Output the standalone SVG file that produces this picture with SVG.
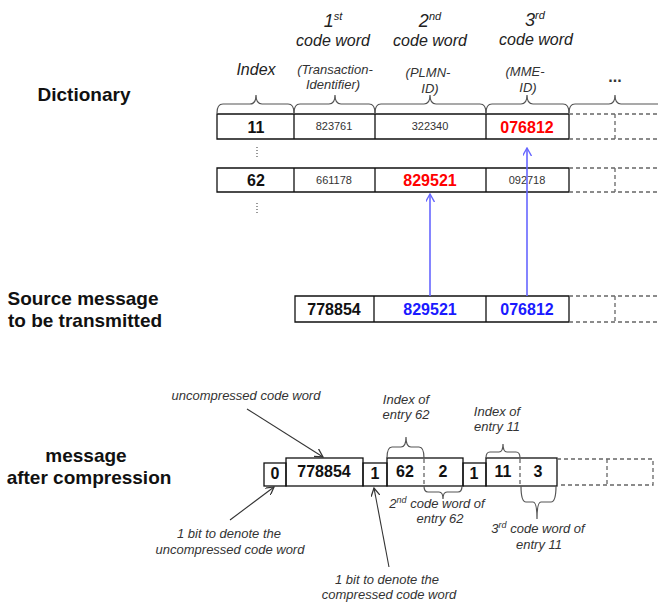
<svg xmlns="http://www.w3.org/2000/svg" width="658" height="606" viewBox="0 0 658 606">
<defs>
<style>
text{font-family:"Liberation Sans",Arial,sans-serif}
.lbl{font-weight:bold;font-size:19px;fill:#111}
.hd{font-style:italic;font-size:16px;fill:#222}
.sub{font-style:italic;font-size:13px;fill:#333}
.it{font-style:italic;font-size:13px;fill:#333}
.num{font-size:11px;fill:#333}
.bn{font-weight:bold;font-size:16px;fill:#111}
.red{font-weight:bold;font-size:16px;fill:#ff0000}
.blue{font-weight:bold;font-size:16px;fill:#1a1aff}
.box{fill:none;stroke:#111;stroke-width:1.3}
.dash{fill:none;stroke:#666;stroke-width:1.3;stroke-dasharray:4,3}
.brace{fill:none;stroke:#555;stroke-width:1.2}
.dots{stroke:#555;stroke-width:1.2;stroke-dasharray:1,2}
.barr{stroke:#6666ff;stroke-width:1.6;fill:none}
.karr{stroke:#333;stroke-width:1.1;fill:none}
</style>
<marker id="mb" viewBox="0 0 10 10" refX="9" refY="5" markerWidth="9" markerHeight="9" markerUnits="userSpaceOnUse" orient="auto"><path d="M0,0 L9,5 L0,10" fill="none" stroke="#6666ff" stroke-width="1.5"/></marker>
<marker id="mk" viewBox="0 0 10 10" refX="9" refY="5" markerWidth="9" markerHeight="9" markerUnits="userSpaceOnUse" orient="auto"><path d="M0,0 L9,5 L0,10" fill="none" stroke="#333" stroke-width="1.4"/></marker>
</defs>
<rect width="658" height="606" fill="#fff"/>

<g id="labels">
<text class="lbl" x="84" y="101" text-anchor="middle">Dictionary</text>
<text class="lbl" x="83" y="305" text-anchor="middle">Source message</text>
<text class="lbl" x="85" y="327" text-anchor="middle">to be transmitted</text>
<text class="lbl" x="86" y="462" text-anchor="middle">message</text>
<text class="lbl" x="89" y="484" text-anchor="middle">after compression</text>
</g>

<g id="headers">
<text class="hd" x="256" y="75" text-anchor="middle">Index</text>
<text class="hd" x="333" y="27" text-anchor="middle"><tspan font-size="18">1</tspan><tspan font-size="11" dy="-7">st</tspan></text>
<text class="hd" x="333" y="46" text-anchor="middle">code word</text>
<text class="hd" x="430" y="27" text-anchor="middle"><tspan font-size="18">2</tspan><tspan font-size="11" dy="-7">nd</tspan></text>
<text class="hd" x="430" y="46" text-anchor="middle">code word</text>
<text class="hd" x="535" y="26" text-anchor="middle"><tspan font-size="18">3</tspan><tspan font-size="11" dy="-7">rd</tspan></text>
<text class="hd" x="536" y="45" text-anchor="middle">code word</text>
<text class="sub" x="335" y="74" text-anchor="middle">(Transaction-</text>
<text class="sub" x="333" y="89" text-anchor="middle">Identifier)</text>
<text class="sub" x="428" y="77" text-anchor="middle">(PLMN-</text>
<text class="sub" x="430" y="93" text-anchor="middle">ID)</text>
<text class="sub" x="525" y="76" text-anchor="middle">(MME-</text>
<text class="sub" x="528" y="92" text-anchor="middle">ID)</text>
<text x="615" y="82" text-anchor="middle" font-size="16" font-weight="bold" fill="#333">...</text>
</g>

<g id="braces-top">
<path class="brace" d="M217,113 Q217,104 223,104 L250,104 Q256,104 256,95 Q256,104 262,104 L288,104 Q294,104 294,113"/>
<path class="brace" d="M294,113 Q294,104 300,104 L329,104 Q335,104 335,95 Q335,104 341,104 L369,104 Q375,104 375,113"/>
<path class="brace" d="M375,113 Q375,104 381,104 L424,104 Q430,104 430,95 Q430,104 436,104 L480,104 Q486,104 486,113"/>
<path class="brace" d="M486,113 Q486,104 492,104 L521,104 Q527,104 527,95 Q527,104 533,104 L563,104 Q569,104 569,113"/>
<path class="brace" d="M569,113 Q569,104 575,104 L609,104 Q615,104 615,95 Q615,104 621,104 L660,104"/>
</g>

<g id="dict-row-11">
<path class="box" d="M569,114 L217,114 L217,139 L569,139 M294,114 L294,139 M375,114 L375,139 M486,114 L486,139 M569,114 L569,139"/>
<path class="dash" d="M569,114 L660,114 M569,139 L660,139 M615,114 L615,139"/>
<text class="bn" x="256" y="133" text-anchor="middle">11</text>
<text class="num" x="334" y="130" text-anchor="middle">823761</text>
<text class="num" x="430" y="130" text-anchor="middle">322340</text>
<text class="red" x="527" y="133" text-anchor="middle">076812</text>
</g>
<line class="dots" x1="257" y1="147" x2="257" y2="158"/>

<g id="dict-row-62">
<path class="box" d="M569,168 L217,168 L217,192 L569,192 M294,168 L294,192 M375,168 L375,192 M486,168 L486,192 M569,168 L569,192"/>
<path class="dash" d="M569,168 L660,168 M569,192 L660,192 M615,168 L615,192"/>
<text class="bn" x="256" y="186" text-anchor="middle">62</text>
<text class="num" x="334" y="184" text-anchor="middle">661178</text>
<text class="red" x="430" y="186" text-anchor="middle">829521</text>
<text class="num" x="527" y="184" text-anchor="middle">092718</text>
</g>
<line class="dots" x1="257" y1="203" x2="257" y2="214"/>

<g id="source-row">
<path class="box" d="M569,296 L295,296 L295,322 L569,322 M374,296 L374,322 M486,296 L486,322 M569,296 L569,322"/>
<path class="dash" d="M569,296 L660,296 M569,322 L660,322 M615,296 L615,322"/>
<text class="bn" x="334" y="315" text-anchor="middle">778854</text>
<text class="blue" x="430" y="315" text-anchor="middle">829521</text>
<text class="blue" x="527" y="315" text-anchor="middle">076812</text>
</g>

<g id="compressed-row">
<rect class="box" x="264" y="463" width="22" height="23"/>
<rect class="box" x="286" y="458" width="77" height="28"/>
<rect class="box" x="363" y="463" width="24" height="23"/>
<rect class="box" x="387" y="458" width="76" height="28"/>
<rect class="box" x="463" y="463" width="23" height="23"/>
<rect class="box" x="486" y="458" width="71" height="28"/>
<path class="dash" d="M424,459 L424,486 M520,459 L520,486"/>
<path class="dash" d="M557,459 L653,459 L653,485 L557,485 M607,459 L607,485"/>
<text class="bn" x="275" y="479" text-anchor="middle">0</text>
<text class="bn" x="324" y="477" text-anchor="middle">778854</text>
<text class="bn" x="375" y="479" text-anchor="middle">1</text>
<text class="bn" x="405" y="477" text-anchor="middle">62</text>
<text class="bn" x="443" y="477" text-anchor="middle">2</text>
<text class="bn" x="474" y="479" text-anchor="middle">1</text>
<text class="bn" x="503" y="477" text-anchor="middle">11</text>
<text class="bn" x="538" y="477" text-anchor="middle">3</text>
</g>

<g id="braces-compressed">
<path class="brace" d="M387,458 Q387,447 392,447 L401,447 Q406,447 406,437 Q406,447 411,447 L419,447 Q424,447 424,458"/>
<path class="brace" d="M486,458 Q486,452 490,452 L499,452 Q503,452 503,444 Q503,452 507,452 L516,452 Q520,452 520,458"/>
<path class="brace" d="M424,486 Q424,492 428,492 L439,492 Q443,492 443,499 Q443,492 447,492 L458,492 Q462,492 462,486"/>
<path class="brace" d="M521,486 Q521,502 526,502 L533,502 Q537,502 537,519 Q537,502 541,502 L551,502 Q556,502 556,486"/>
</g>

<g id="annotations">
<text class="it" x="246" y="400" text-anchor="middle">uncompressed code word</text>
<text class="it" x="406" y="404" text-anchor="middle">Index of</text>
<text class="it" x="406" y="419" text-anchor="middle">entry 62</text>
<text class="it" x="497" y="416" text-anchor="middle">Index of</text>
<text class="it" x="497" y="431" text-anchor="middle">entry 11</text>
<text class="it" x="437" y="508" text-anchor="middle">2<tspan font-size="9" dy="-5">nd</tspan><tspan dy="5"> code word of</tspan></text>
<text class="it" x="440" y="523" text-anchor="middle">entry 62</text>
<text class="it" x="538" y="533" text-anchor="middle">3<tspan font-size="9" dy="-5">rd</tspan><tspan dy="5"> code word of</tspan></text>
<text class="it" x="539" y="549" text-anchor="middle">entry 11</text>
<text class="it" x="229" y="538" text-anchor="middle">1 bit to denote the</text>
<text class="it" x="230" y="554" text-anchor="middle">uncompressed code word</text>
<text class="it" x="387" y="584" text-anchor="middle">1 bit to denote the</text>
<text class="it" x="389" y="599" text-anchor="middle">compressed code word</text>
</g>

<g id="connectors">
<line class="barr" x1="430" y1="296" x2="430" y2="194" marker-end="url(#mb)"/>
<line class="barr" x1="527" y1="296" x2="527" y2="148" marker-end="url(#mb)"/>
<line class="karr" x1="247" y1="409" x2="323" y2="457" marker-end="url(#mk)"/>
<line class="karr" x1="230" y1="520" x2="274" y2="487" marker-end="url(#mk)"/>
<line class="karr" x1="389" y1="567" x2="374" y2="488" marker-end="url(#mk)"/>
</g>
</svg>
